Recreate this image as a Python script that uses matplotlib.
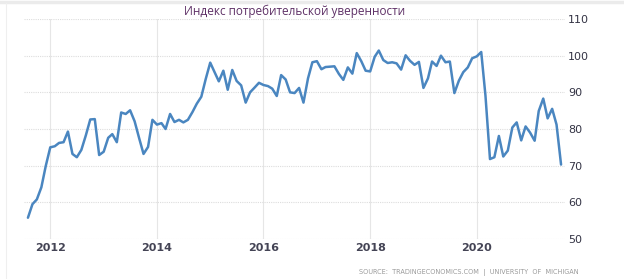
import matplotlib
matplotlib.use('Agg')
import matplotlib.pyplot as plt
from matplotlib.lines import Line2D
import pandas as pd

# Consumer sentiment, monthly from Aug 2011 to Aug 2021
start_month = '2011-08'
sentiment = [
    55.8, 59.5, 60.8, 64.1, 69.9,
    75.0, 75.3, 76.2, 76.4, 79.3, 73.2, 72.3, 74.3, 78.3, 82.6, 82.7, 72.9,
    73.8, 77.6, 78.6, 76.4, 84.5, 84.1, 85.1, 82.1, 77.5, 73.2, 75.1, 82.5,
    81.2, 81.6, 80.0, 84.1, 81.9, 82.5, 81.8, 82.5, 84.6, 86.9, 88.8, 93.6,
    98.1, 95.4, 93.0, 95.9, 90.7, 96.1, 93.1, 91.9, 87.2, 90.0, 91.3, 92.6,
    92.0, 91.7, 91.0, 89.0, 94.7, 93.5, 90.0, 89.8, 91.2, 87.2, 93.8, 98.2,
    98.5, 96.3, 96.9, 97.0, 97.1, 95.0, 93.4, 96.8, 95.1, 100.7, 98.5, 95.9,
    95.7, 99.7, 101.4, 98.8, 98.0, 98.2, 97.9, 96.2, 100.1, 98.6, 97.5, 98.3,
    91.2, 93.8, 98.4, 97.2, 100.0, 98.2, 98.4, 89.8, 93.2, 95.5, 96.8, 99.3,
    99.8, 101.0, 89.1, 71.8, 72.3, 78.1, 72.5, 74.1, 80.4, 81.8, 76.9, 80.7,
    79.0, 76.8, 84.9, 88.3, 82.9, 85.5, 81.2, 70.3,
]
year_ticks = ['2012', '2014', '2016', '2018', '2020']
y_ticks = [50, 60, 70, 80, 90, 100, 110]
title = 'Индекс потребительской уверенности'
source = 'SOURCE:  TRADINGECONOMICS.COM  |  UNIVERSITY  OF  MICHIGAN'

dates = pd.date_range(start_month, periods=len(sentiment), freq='MS')

fig = plt.figure(figsize=(6.24, 2.79), dpi=100)
ax = fig.add_axes([24 / 624, 40 / 279, 541 / 624, 220 / 279])

ax.plot(dates, sentiment, color='#4a86c0', linewidth=1.8,
        solid_joinstyle='round', solid_capstyle='round', zorder=3)

ax.set_ylim(50, 110)
ax.set_xlim(pd.Timestamp('2011-07-05'), pd.Timestamp('2021-08-28'))
ax.set_yticks(y_ticks)
ax.set_yticklabels([str(v) for v in y_ticks])
ax.set_xticks([pd.Timestamp(y + '-01-01') for y in year_ticks])
ax.set_xticklabels(year_ticks)
ax.yaxis.tick_right()

for s in ax.spines.values():
    s.set_visible(False)
ax.tick_params(axis='both', length=0, labelsize=8, colors='#333344')
ax.tick_params(axis='y', pad=2)
ax.tick_params(axis='x', pad=3)
for lbl in ax.get_xticklabels():
    lbl.set_fontweight('semibold')
    lbl.set_color('#444455')

ax.grid(axis='y', color='#dddddd', linestyle=(0, (1, 1)), linewidth=0.8)
ax.grid(axis='x', color='#e6e6e6', linestyle='-', linewidth=0.8)
ax.set_axisbelow(True)

fig.text(295 / 624, 1 - 11 / 279, title, ha='center', va='center',
         fontsize=8.5, color='#5e3066', family='Open Sans')
fig.text(579 / 624, 1 - 272 / 279, source, ha='right', va='center',
         fontsize=4.7, color='#9a9a9a')

# screenshot frame
fig.add_artist(Line2D([0, 1], [1 - 1.5 / 279] * 2, color='#ebebeb', linewidth=2.5))
fig.add_artist(Line2D([6 / 624] * 2, [0, 1 - 3 / 279], color='#efefef', linewidth=0.8))

fig.savefig('out.png', dpi=100)
